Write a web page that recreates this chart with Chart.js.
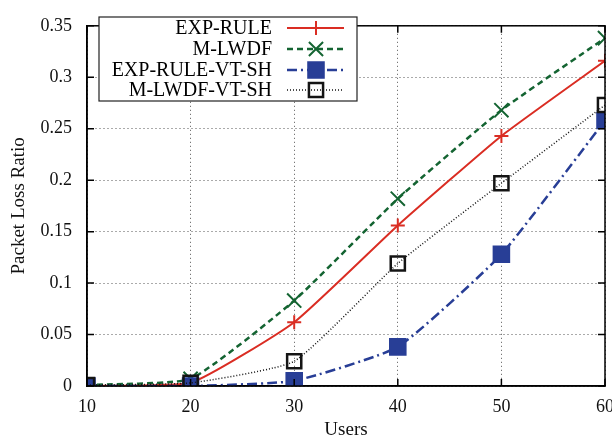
<!DOCTYPE html>
<html>
<head>
<meta charset="utf-8">
<script src="https://cdn.jsdelivr.net/npm/chart.js@4/dist/chart.umd.min.js"></script>
<style>
    html, body { margin: 0; padding: 0; overflow: hidden; background: #fff; }
    #wrap { width: 640px; height: 443px; }
</style>
</head>
<body>
<div id="wrap"><canvas id="chart" width="640" height="443"></canvas></div>
<script>
// Data
const users = [10, 20, 30, 40, 50, 60];
const expRule = [0.000, 0.003, 0.062, 0.156, 0.243, 0.316];
const mLwdf = [0.001, 0.007, 0.083, 0.182, 0.268, 0.338];
const expRuleVtSh = [0.000, 0.000, 0.005, 0.038, 0.128, 0.258];
const mLwdfVtSh = [0.001, 0.003, 0.024, 0.119, 0.197, 0.273];
const yTicks = [0, 0.05, 0.1, 0.15, 0.2, 0.25, 0.3, 0.35];

const serif = "'Liberation Serif', 'Times New Roman', serif";

function pts(values) {
    return users.map((u, i) => ({ x: u, y: values[i] }));
}

const series = [
    { label: 'EXP-RULE', data: expRule, color: 'rgb(218,45,35)', dash: [], width: 2,
      style: 'cross', radius: 7, fill: 'rgb(218,45,35)', order: 4 },
    { label: 'M-LWDF', data: mLwdf, color: 'rgb(20,100,50)', dash: [6, 4], width: 2.5,
      style: 'crossRot', radius: 10, fill: 'rgb(20,100,50)', order: 3 },
    { label: 'EXP-RULE-VT-SH', data: expRuleVtSh, color: 'rgb(40,62,150)', dash: [10, 4, 2, 4], width: 2.5,
      style: 'rect', radius: 11, fill: 'rgb(40,62,150)', order: 2 },
    { label: 'M-LWDF-VT-SH', data: mLwdfVtSh, color: 'rgb(20,20,20)', dash: [1, 2], width: 1.5,
      style: 'rect', radius: 10, fill: 'rgba(0,0,0,0)', order: 1 }
];

// frame, inward ticks and gnuplot style key
const framePlugin = {
    id: 'frame',
    afterDraw(chart) {
        const ctx = chart.ctx;
        const a = chart.chartArea;
        const xs = chart.scales.x, ys = chart.scales.y;
        ctx.save();
        ctx.strokeStyle = '#000';
        ctx.lineWidth = 1.5;
        ctx.setLineDash([]);
        ctx.strokeRect(a.left, a.top, a.right - a.left, a.bottom - a.top);
        ctx.beginPath();
        users.forEach(u => {
            const px = xs.getPixelForValue(u);
            ctx.moveTo(px, a.bottom); ctx.lineTo(px, a.bottom - 7);
            ctx.moveTo(px, a.top); ctx.lineTo(px, a.top + 7);
        });
        yTicks.forEach(v => {
            const py = ys.getPixelForValue(v);
            ctx.moveTo(a.left, py); ctx.lineTo(a.left + 7, py);
            ctx.moveTo(a.right, py); ctx.lineTo(a.right - 7, py);
        });
        ctx.stroke();

        // key box
        const bx = 99, by = 17, bw = 258, bh = 84;
        ctx.fillStyle = '#fff';
        ctx.fillRect(bx, by, bw, bh);
        ctx.lineWidth = 1.2;
        ctx.strokeStyle = '#222';
        ctx.strokeRect(bx, by, bw, bh);
        const rows = [28, 49, 70, 90];
        ctx.font = '20px ' + serif;
        ctx.textAlign = 'right';
        ctx.textBaseline = 'middle';
        series.forEach((s, i) => {
            const y = rows[i];
            ctx.fillStyle = '#000';
            ctx.fillText(s.label, 272, y + 1);
            ctx.strokeStyle = s.color;
            ctx.lineWidth = s.width;
            ctx.setLineDash(s.dash);
            ctx.beginPath();
            ctx.moveTo(287, y); ctx.lineTo(344, y);
            ctx.stroke();
            ctx.setLineDash([]);
            ctx.fillStyle = s.fill;
            ctx.lineWidth = s.style === 'rect' && s.fill.indexOf('rgba') === 0 ? 2.5 : 2;
            Chart.helpers.drawPoint(ctx, { pointStyle: s.style, radius: s.radius, borderWidth: ctx.lineWidth, rotation: 0 }, 316, y);
        });
        ctx.restore();
    }
};

const ctx = document.getElementById('chart').getContext('2d');
new Chart(ctx, {
    type: 'line',
    data: {
        datasets: series.map(s => ({
            label: s.label,
            data: pts(s.data),
            borderColor: s.color,
            borderWidth: s.width,
            borderDash: s.dash,
            backgroundColor: s.fill,
            pointStyle: s.style,
            pointRadius: s.radius,
            pointBorderWidth: s.style === 'rect' && s.fill.indexOf('rgba') === 0 ? 2.5 : 2,
            pointBorderColor: s.color,
            pointBackgroundColor: s.fill,
            tension: 0.15,
            fill: false,
            order: s.order
        }))
    },
    options: {
        responsive: false,
        animation: false,
        layout: { padding: { top: 10, right: 35, left: 0, bottom: 0 } },
        plugins: {
            legend: { display: false },
            tooltip: { enabled: false }
        },
        scales: {
            x: {
                type: 'linear',
                min: 10,
                max: 60,
                afterBuildTicks: axis => { axis.ticks = users.map(v => ({ value: v })); },
                afterFit: axis => { axis.height = 57; },
                grid: { color: '#555', lineWidth: 1, drawTicks: false },
                border: { display: true, color: '#000', width: 1.5, dash: [1, 3] },
                ticks: { color: '#111', padding: 10, font: { family: serif, size: 18 }, maxRotation: 0 },
                title: { display: true, text: 'Users', color: '#111', font: { family: serif, size: 19 }, padding: { top: 0, bottom: 2 } }
            },
            y: {
                min: 0,
                max: 0.35,
                afterBuildTicks: axis => { axis.ticks = yTicks.map(v => ({ value: v })); },
                afterFit: axis => { axis.width = 87; },
                grid: { color: '#555', lineWidth: 1, drawTicks: false },
                border: { display: true, color: '#000', width: 1.5, dash: [1, 3] },
                ticks: {
                    color: '#111', padding: 15, font: { family: serif, size: 18 },
                    callback: v => String(+v.toFixed(2))
                },
                title: { display: true, text: 'Packet Loss Ratio', color: '#111', font: { family: serif, size: 19 }, padding: { top: 8, bottom: 0 } }
            }
        }
    },
    plugins: [framePlugin]
});
</script>
</body>
</html>
